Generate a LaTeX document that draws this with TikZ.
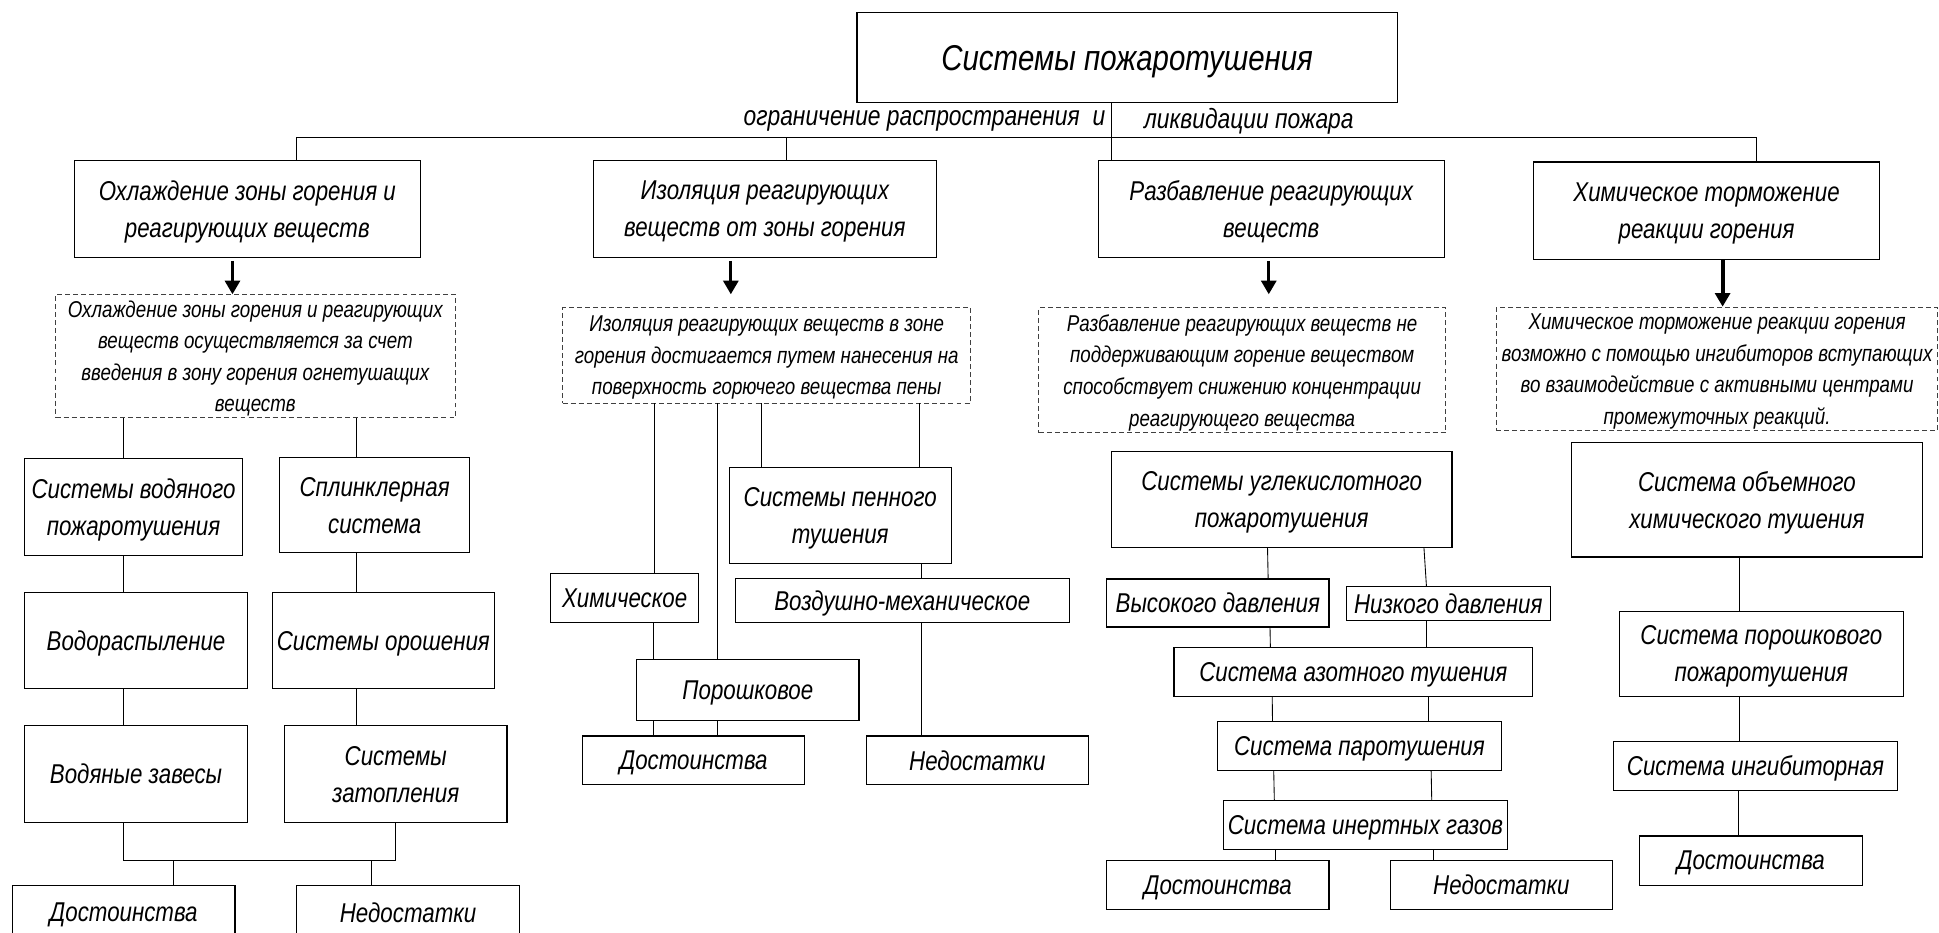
\documentclass[tikz,border=0pt]{standalone}
\usepackage{fontspec}
\newfontfamily\gost[FakeStretch=0.82]{Liberation Sans}
\usetikzlibrary{arrows.meta}
\newcommand\bx[7]{%
 \pgfmathsetmacro\bxcx{(#3+#5)/2}\pgfmathsetmacro\bxcy{(#4+#6)/2}%
 \pgfmathsetmacro\bxww{#5-#3}\pgfmathsetmacro\bxhh{#6-#4}%
 \node[#1, minimum width=\bxww pt, minimum height=\bxhh pt] (#2) at (\bxcx,\bxcy) {#7};}
\begin{document}
\begin{tikzpicture}[x=1pt,y=-1pt,
  box/.style={draw, line width=0.9pt, inner sep=0pt, outer sep=0pt, align=center, text depth=0pt,
    font=\gost\itshape\fontsize{22}{30}\selectfont},
  dbox/.style={draw=black!75, dash pattern=on 4pt off 2.5pt, line width=0.8pt, inner sep=0pt, outer sep=0pt, align=center, text depth=0pt,
    font=\gost\itshape\fontsize{18.5}{25.5}\selectfont},
  titlebox/.style={box, font=\gost\itshape\fontsize{29}{34}\selectfont},
  lbl/.style={inner sep=0pt, font=\gost\itshape\fontsize{22.5}{26}\selectfont},
  conn/.style={line width=0.7pt},
  bar/.style={line width=0.9pt},
  bigarrow/.style={line width=2.6pt, -{Triangle[width=12pt,length=11pt]}}
]
\fill[white] (0,0) rectangle (1568,754);
\useasboundingbox (0,0) rectangle (1568,754);

% top
\bx{titlebox}{title}{693}{10}{1130}{83}{Системы пожаротушения}
\node[lbl, anchor=east] (subl) at (894,98) {ограничение распространения\ \ и};
\node[lbl, anchor=west] (subr) at (925,98) {ликвидации пожара};

\bx{box}{b1}{60}{130}{340}{208}{Охлаждение зоны горения и\\реагирующих веществ}
\bx{box}{b2}{480}{130}{757}{208}{Изоляция реагирующих\\веществ от зоны горения}
\bx{box}{b3}{888}{130}{1168}{208}{Разбавление реагирующих\\веществ}
\bx{box}{b4}{1240}{131}{1520}{210}{Химическое торможение\\реакции горения}

\coordinate (j1) at (240,111);
\coordinate (j2) at (636,111);
\coordinate (j3) at (899,111);
\coordinate (j4) at (1420,111);
\draw[bar] (j1) -- (j4);
\draw[conn] (j1) -- (b1.north -| j1);
\draw[conn] (j2) -- (b2.north -| j2);
\draw[conn] (title.south -| j3) -- (b3.north -| j3);
\draw[conn] (j4) -- (b4.north -| j4);

% dashed boxes
\bx{dbox}{d1}{45}{238}{368}{338}{Охлаждение зоны горения и реагирующих\\веществ осуществляется за счет\\введения в зону горения огнетушащих\\веществ}
\bx{dbox}{d2}{455}{249}{785}{326}{Изоляция реагирующих веществ в зоне\\горения достигается путем нанесения на\\поверхность горючего вещества пены}
\bx{dbox}{d3}{840}{249}{1169}{350}{Разбавление реагирующих веществ не\\поддерживающим горение веществом\\способствует снижению концентрации\\реагирующего вещества}
\bx{dbox}{d4}{1210}{249}{1567}{348}{Химическое торможение реакции горения\\возможно с помощью ингибиторов вступающих\\во взаимодействие с активными центрами\\промежуточных реакций.}

% arrows
\coordinate (a1s) at (188,211); \coordinate (a1e) at (188,238);
\coordinate (a2s) at (591,211); \coordinate (a2e) at (591,238);
\coordinate (a3s) at (1026,211); \coordinate (a3e) at (1026,238);
\coordinate (a4s) at (1393,210); \coordinate (a4e) at (1393,248);
\draw[bigarrow] (a1s) -- (a1e);
\draw[bigarrow] (a2s) -- (a2e);
\draw[bigarrow] (a3s) -- (a3e);
\draw[bigarrow, line width=3.3pt] (a4s) -- (a4e);

% column 1
\bx{box}{v1}{20}{371}{196}{449}{Системы водяного\\пожаротушения}
\bx{box}{sp}{226}{370}{380}{447}{Сплинклерная\\система}
\bx{box}{vr}{20}{479}{200}{557}{Водораспыление}
\bx{box}{so}{220}{479}{400}{557}{Системы орошения}
\bx{box}{vz}{20}{587}{200}{665}{Водяные завесы}
\bx{box}{sz}{230}{587}{410}{665}{Системы\\затопления}
\bx{box}{dos1}{10}{716}{190}{760}{Достоинства}
\bx{box}{ned1}{240}{716}{420}{760}{Недостатки}

\draw[conn] (d1.south -| 100,0) -- (v1.north -| 100,0);
\draw[conn] (d1.south -| 288,0) -- (sp.north -| 288,0);
\draw[conn] (v1.south -| 100,0) -- (vr.north -| 100,0);
\draw[conn] (sp.south -| 288,0) -- (so.north -| 288,0);
\draw[conn] (vr.south -| 100,0) -- (vz.north -| 100,0);
\draw[conn] (so.south -| 288,0) -- (sz.north -| 288,0);
\coordinate (k1) at (100,696);
\coordinate (k2) at (320,696);
\coordinate (k3) at (140,696);
\coordinate (k4) at (300,696);
\draw[conn] (vz.south -| k1) -- (k1) -- (k2) -- (sz.south -| k2);
\draw[conn] (k3) -- (dos1.north -| k3);
\draw[conn] (k4) -- (ned1.north -| k4);

% column 2
\bx{box}{pen}{589.6}{378}{769.3}{455.4}{Системы пенного\\тушения}
\bx{box}{vm}{594.8}{468}{864.5}{503.6}{Воздушно-механическое}
\bx{box}{him}{445.4}{463.8}{564.8}{503.6}{Химическое}
\bx{box}{por}{514.9}{533.6}{694.6}{582.7}{Порошковое}
\bx{box}{dos2}{471}{595.2}{650.8}{634.6}{Достоинства}
\bx{box}{ned2}{700.4}{595.2}{880.4}{634.6}{Недостатки}

\draw[conn] (d2.south -| 529.6,0) -- (him.north -| 529.6,0);
\draw[conn] (d2.south -| 580,0) -- (por.north -| 580,0);
\draw[conn] (d2.south -| 616,0) -- (pen.north -| 616,0);
\draw[conn] (d2.south -| 743.4,0) -- (pen.north -| 743.4,0);
\draw[conn] (pen.south -| 744.8,0) -- (vm.north -| 744.8,0);
\draw[conn] (him.south -| 528.4,0) -- (por.north -| 528.4,0);
\draw[conn] (por.south -| 528.2,0) -- (dos2.north -| 528.2,0);
\draw[conn] (por.south -| 580,0) -- (dos2.north -| 580,0);
\draw[conn] (vm.south -| 745.4,0) -- (ned2.north -| 745.4,0);

% column 3
\bx{box}{ug}{898.7}{365.2}{1174.2}{443}{Системы углекислотного\\пожаротушения}
\bx{box}{vd}{894.9}{468.2}{1074.7}{507}{Высокого давления}
\bx{box}{nd}{1088.5}{474}{1253.8}{501.6}{Низкого давления}
\bx{box}{az}{949.4}{523.5}{1239.4}{563.2}{Система азотного тушения}
\bx{box}{par}{984.3}{583.4}{1214.3}{622.8}{Система паротушения}
\bx{box}{ing3}{989.5}{647.4}{1218.9}{686.8}{Система инертных газов}
\bx{box}{dos3}{894.9}{695.6}{1074.7}{735.3}{Достоинства}
\bx{box}{ned3}{1124.3}{695.6}{1304}{735.3}{Недостатки}

\draw[conn] (ug.south -| 1025,0) -- (vd.north -| 1025.5,0);
\draw[conn] (ug.south -| 1151.5,0) -- (nd.north -| 1153.5,0);
\draw[conn] (vd.south -| 1027,0) -- (az.north -| 1027.3,0);
\draw[conn] (nd.south -| 1153.7,0) -- (az.north -| 1153.7,0);
\draw[conn] (az.south -| 1028.8,0) -- (par.north -| 1029,0);
\draw[conn] (az.south -| 1155.4,0) -- (par.north -| 1155.4,0);
\draw[conn] (par.south -| 1030,0) -- (ing3.north -| 1030.5,0);
\draw[conn] (par.south -| 1157.3,0) -- (ing3.north -| 1157.8,0);
\draw[conn] (ing3.south -| 1031.4,0) -- (dos3.north -| 1031.4,0);
\draw[conn] (ing3.south -| 1159.2,0) -- (ned3.north -| 1159.2,0);

% column 4
\bx{box}{ob}{1270.7}{357.8}{1554.6}{450.4}{Система объемного\\химического тушения}
\bx{box}{pp}{1309.5}{494.2}{1539.2}{563.2}{Система порошкового\\пожаротушения}
\bx{box}{ingb}{1304.7}{599.6}{1534.4}{639}{Система ингибиторная}
\bx{box}{dos4}{1325.7}{676}{1506}{715.8}{Достоинства}

\draw[conn] (ob.south -| 1407,0) -- (pp.north -| 1407,0);
\draw[conn] (pp.south -| 1406.6,0) -- (ingb.north -| 1406.6,0);
\draw[conn] (ingb.south -| 1406,0) -- (dos4.north -| 1406,0);
\end{tikzpicture}
\end{document}
